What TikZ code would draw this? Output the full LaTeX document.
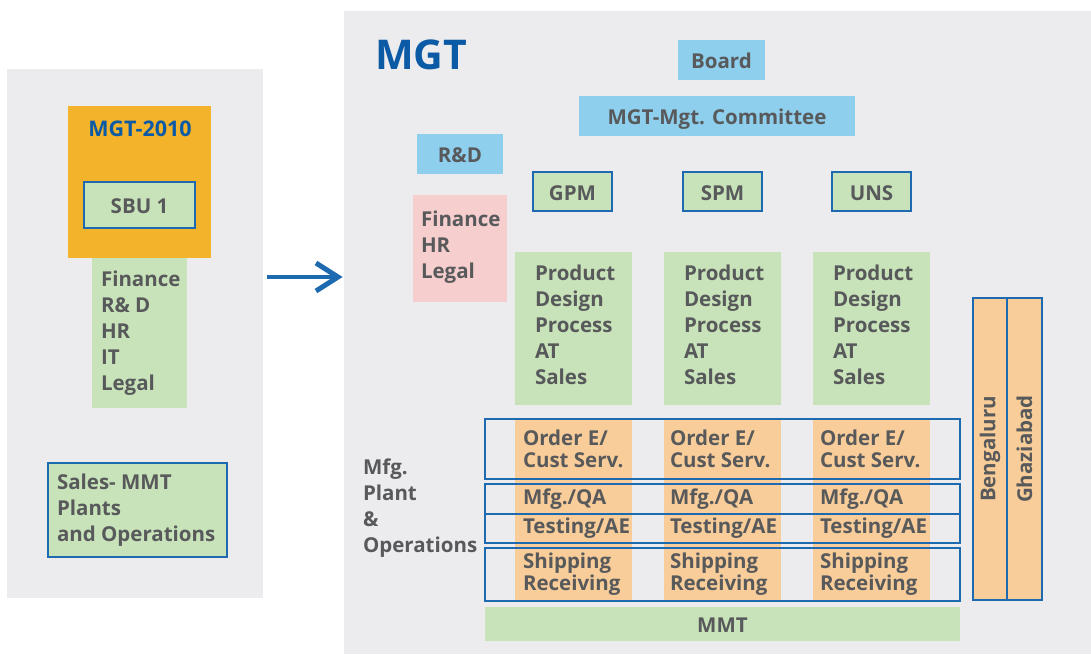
\documentclass[tikz,border=0pt]{standalone}
\usepackage{fontspec}
\setmainfont{Open Sans}
\usetikzlibrary{arrows.meta,calc}
\definecolor{panel}{HTML}{ECECEE}
\definecolor{lblue}{HTML}{8ECFEE}
\definecolor{lgreen}{HTML}{C8E3B9}
\definecolor{lorange}{HTML}{F8CD9A}
\definecolor{gold}{HTML}{F3B32B}
\definecolor{pink}{HTML}{F6CECE}
\definecolor{bline}{HTML}{1D6AB0}
\definecolor{ttl}{HTML}{0B5AA6}
\definecolor{txt}{HTML}{58595B}
\begin{document}
\begin{tikzpicture}[x=1pt,y=-1pt,
  every node/.style={font=\bfseries\fontsize{20.5}{26}\selectfont, text=txt, inner sep=0pt, outer sep=0pt},
  bx/.style={anchor=north west},
  bt/.style={text height=18.5pt, text depth=1.5pt},
  tight/.style={font=\bfseries\fontsize{20.5}{21.5}\selectfont},
  blueedge/.style={draw=bline, line width=2.4pt},
  rowline/.style={draw=bline, line width=1.5pt},
  lst/.style={align=left}
]
\useasboundingbox (0,0) rectangle (1091,654);
\fill[white] (0,0) rectangle (1091,654);
% panels
\node[bx, fill=panel, minimum width=256, minimum height=529] (lp) at (7,69) {};
\node[bx, fill=panel, minimum width=747, minimum height=643] (rp) at (344,11) {};

% left panel
\node[bx, fill=gold, minimum width=143, minimum height=152] (m2010) at (68,106) {};
\node[text=ttl, font=\bfseries\fontsize{21.5}{26}\selectfont] (m2010t) at (140,129) {MGT-2010};
\node[bx, bt, fill=lgreen, blueedge, minimum width=111, minimum height=46] (sbu) at (84,182) {SBU 1};
\node[bx, fill=lgreen, minimum width=95, minimum height=150] (lfin) at (92,258) {};
\node[anchor=west, lst] (lfint) at (101,333) {Finance\\R\& D\\HR\\IT\\Legal};
\node[bx, fill=lgreen, blueedge, minimum width=179, minimum height=94] (sales) at (48,463) {};
\node[anchor=west, lst] (salest) at (57,510) {Sales- MMT\\Plants\\and Operations};

% arrow
\coordinate (a1) at (267,277);
\coordinate (a2) at (338,277);
\draw[bline, line width=4.5pt] (a1) -- (a2);
\draw[bline, line width=5pt, line join=miter, line cap=butt]
  ($(a2)+(-22,-14)$) -- (a2) -- ($(a2)+(-22,14)$);

% right panel
\node[anchor=west, text=ttl, font=\bfseries\fontsize{41}{41}\selectfont] (mgt) at (375,55) {MGT};
\node[bx, bt, fill=lblue, minimum width=87, minimum height=40] (board) at (678,40) {Board};
\node[bx, bt, fill=lblue, minimum width=276, minimum height=40] (comm) at (579,96) {MGT-Mgt. Committee};
\node[bx, bt, fill=lblue, minimum width=86, minimum height=40] (rd) at (417,134) {R\&D};
\node[bx, bt, fill=lgreen, blueedge, minimum width=79, minimum height=39] (gpm) at (533,172) {GPM};
\node[bx, bt, fill=lgreen, blueedge, minimum width=79, minimum height=39] (spm) at (683,172) {SPM};
\node[bx, bt, fill=lgreen, blueedge, minimum width=79, minimum height=39] (uns) at (832,172) {UNS};
\node[bx, fill=pink, minimum width=94, minimum height=107] (pink) at (413,195) {};
\node[anchor=west, lst] (pinkt) at (421,247) {Finance\\HR\\Legal};

% product boxes
\foreach \x/\n in {515/p1,664/p2,813/p3}{
  \node[bx, fill=lgreen, minimum width=117, minimum height=153] (\n) at (\x,252) {};
  \node[anchor=west, lst] (\n t) at (\x+20,325) {Product\\Design\\Process\\AT\\Sales};
}

% orange columns
\foreach \x/\n in {515/c1,664/c2,813/c3}{
  \node[bx, fill=lorange, minimum width=117, minimum height=183] (\n) at (\x,418) {};
}
% row outlines
\node[bx, rowline, minimum width=475, minimum height=60] (r1) at (485,419) {};
\node[bx, rowline, minimum width=475, minimum height=30] (r2) at (485,484) {};
\node[bx, rowline, minimum width=475, minimum height=29] (r3) at (485,514) {};
\node[bx, rowline, minimum width=475, minimum height=53] (r4) at (485,548) {};
\foreach \x/\n in {523/a,670/b,820/c}{
  \node[anchor=west, lst, tight] (o\n) at (\x,449) {Order E/\\Cust Serv.};
  \node[anchor=west] (q\n) at (\x,499) {Mfg./QA};
  \node[anchor=west] (t\n) at (\x,528) {Testing/AE};
  \node[anchor=west, lst, tight] (s\n) at (\x,574) {Shipping\\Receiving};
}
\node[anchor=west, lst] (mfg) at (363,508) {Mfg.\\Plant\\\&\\Operations};
\node[bx, bt, fill=lgreen, minimum width=475, minimum height=34] (mmt) at (485,607) {MMT};

% plants
\node[bx, fill=lorange, rowline, minimum width=34, minimum height=302] (beng) at (973,298) {};
\node[bx, fill=lorange, rowline, minimum width=35, minimum height=302] (ghaz) at (1007,298) {};
\node[rotate=90] (bengt) at (beng.center) {Bengaluru};
\node[rotate=90] (ghazt) at (ghaz.center) {Ghaziabad};
\end{tikzpicture}
\end{document}
